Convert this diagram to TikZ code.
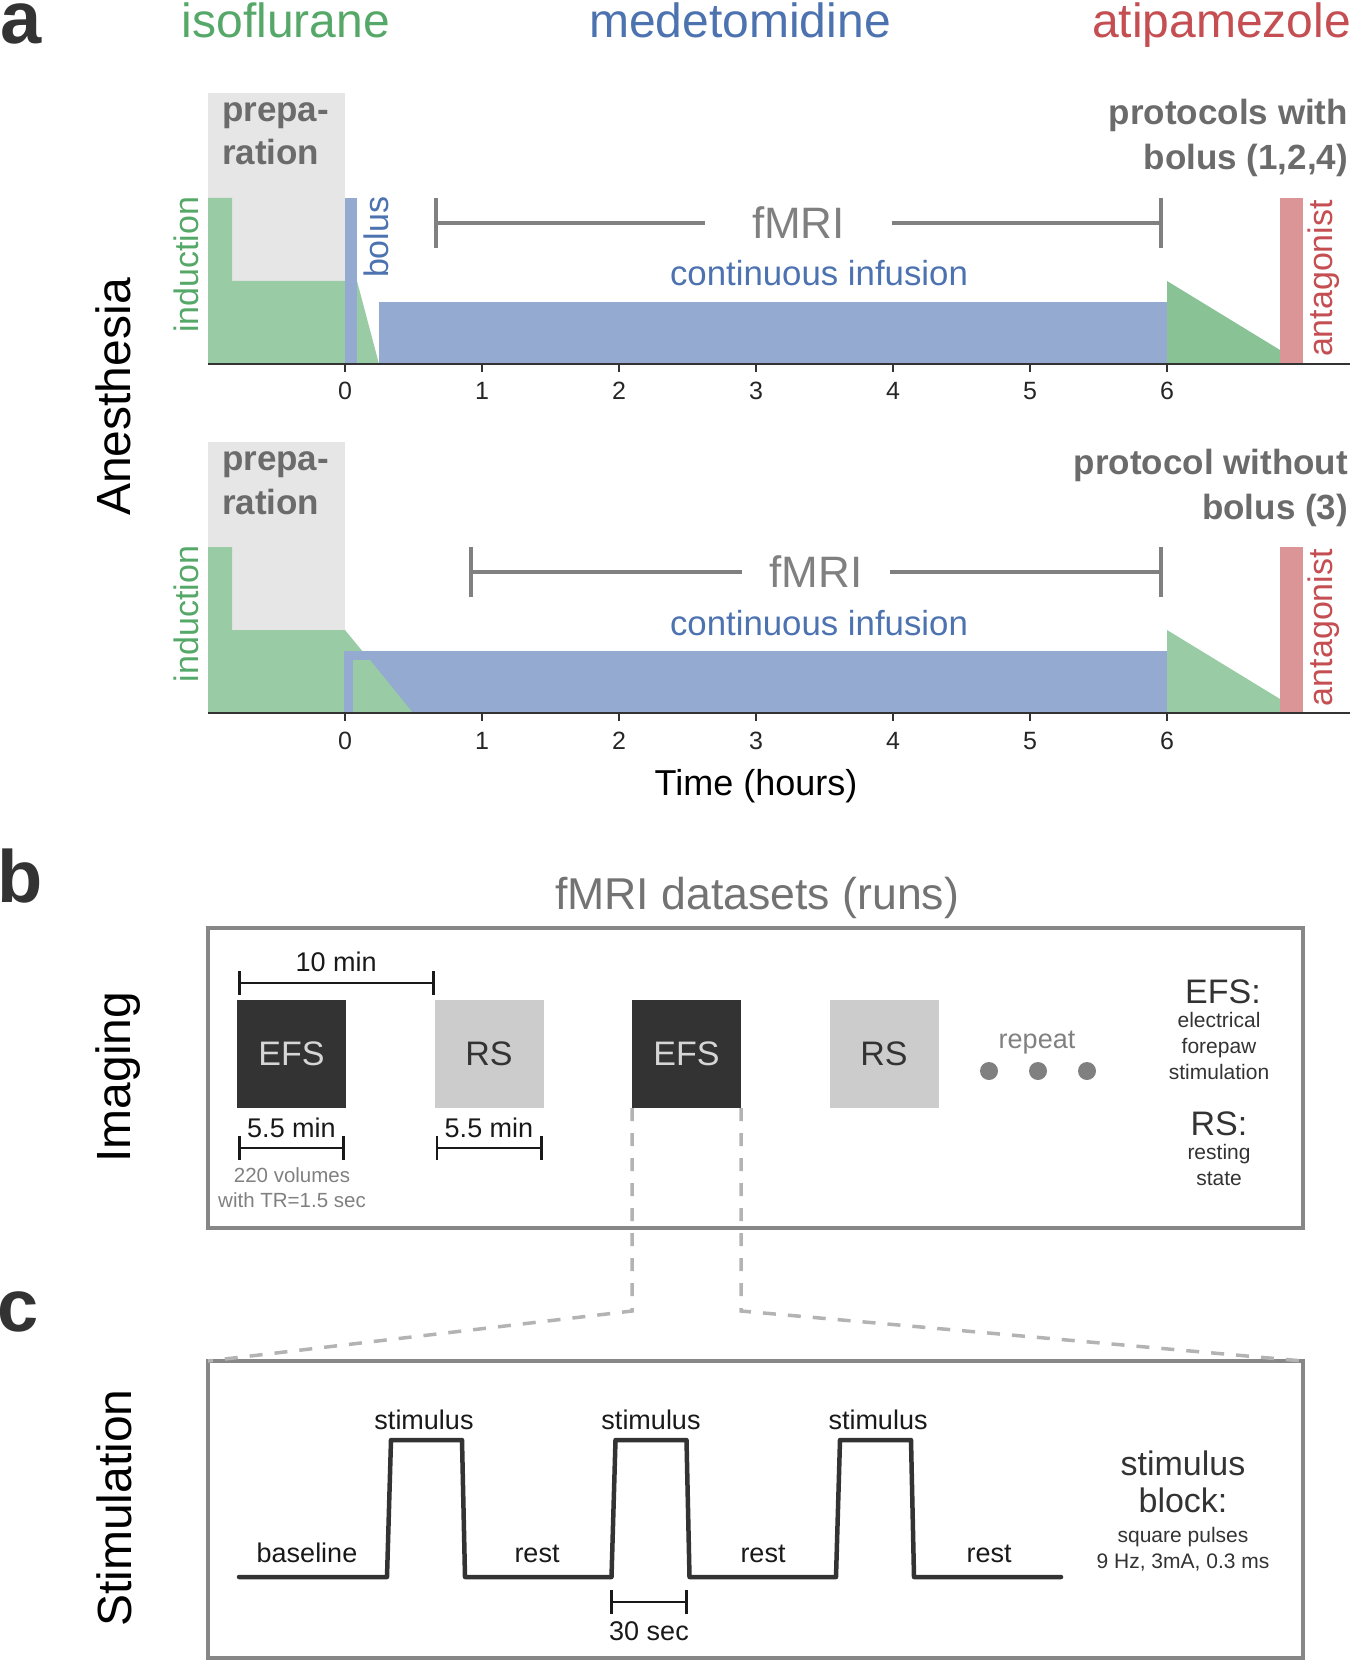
\documentclass[tikz,border=0pt]{standalone}
\usepackage{fontspec}
\setmainfont{Liberation Sans}
\usepackage{tikz}
\usetikzlibrary{arrows.meta,calc,positioning}

\definecolor{isoG}{HTML}{55A868}
\definecolor{medB}{HTML}{4C72B0}
\definecolor{atiR}{HTML}{C44E52}
\definecolor{isoFill}{HTML}{99CBA4}
\definecolor{isoFillDk}{HTML}{88C295}
\definecolor{medFill}{HTML}{94AAD0}
\definecolor{atiFill}{HTML}{DC9597}
\definecolor{prepGray}{HTML}{E6E6E6}
\definecolor{txtGray}{HTML}{6B6B6B}
\definecolor{midGray}{HTML}{808080}
\definecolor{frameGray}{HTML}{878787}
\definecolor{dashGray}{HTML}{B3B3B3}
\definecolor{darkGray}{HTML}{333333}
\definecolor{efsText}{HTML}{D6D6D6}
\definecolor{rsFill}{HTML}{CCCCCC}

\newcommand{\pxsize}[1]{\fontsize{#1}{#1}\selectfont}

\tikzset{
  every node/.style={inner sep=0pt, outer sep=0pt},
  panel label/.style={font=\bfseries\pxsize{37}, text=darkGray, anchor=base west},
  drug/.style={font=\pxsize{24}, anchor=base},
  row label/.style={font=\pxsize{24}, rotate=90, anchor=base},
  stage/.style={font=\bfseries\pxsize{17.5}, text=txtGray},
  vert lbl/.style={font=\pxsize{17}, rotate=90, anchor=base west},
  hour/.style={font=\pxsize{12.5}, text=black!85, anchor=base},
  axisline/.style={draw=darkGray, line width=1pt},
  fmri bar/.style={draw=midGray, line width=2pt},
  fmri lbl/.style={font=\pxsize{22}, text=midGray},
  runbox/.style={minimum width=54.5pt, minimum height=54pt, font=\pxsize{17}},
  efs run/.style={runbox, fill=darkGray, text=efsText},
  rs run/.style={runbox, fill=rsFill, text=darkGray},
  scalebar/.style={draw=black!90, line width=1.3pt, {Bar[width=12pt]}-{Bar[width=12pt]}},
  scale lbl/.style={font=\pxsize{13.5}, text=black!90},
  small lbl/.style={font=\pxsize{10.5}, text=darkGray, anchor=base},
  panelbox/.style={draw=frameGray, line width=1.75pt, minimum width=547.5pt},
  zoomline/.style={draw=dashGray, line width=1.75pt, dash pattern=on 6.5pt off 6pt},
  pulsetrain/.style={draw=darkGray, line width=2.25pt, line cap=round, line join=round},
}

\begin{document}
\begin{tikzpicture}[x=0.5pt, y=-0.5pt]
  \useasboundingbox (0,0) rectangle (1350,1663);

  % Time axis: t=0 at x=345, one hour = 137 units
  \def\tzero{345}
  \def\hrs{137}
  \def\yaxis{364}
  \def\pstep{224.5}

  % ---------- a: anesthesia ----------
  \node[panel label] (la) at (0,44) {a};
  \node[drug, text=isoG] (iso) at (286,38) {isoflurane};
  \node[drug, text=medB] (med) at (740,38) {medetomidine};
  \node[drug, text=atiR, anchor=base east] (ati) at (1351,38) {atipamezole};
  \node[row label] (anes) at (130,397) {Anesthesia};

  % Shared background of both protocols (second one 349 lower)
  \foreach \p/\dy/\ga/\gb/\tail/\ta/\tb in
      {1/0/357/379/isoFillDk/{protocols with}/{bolus (1,2,4)},
       2/349/\tzero/413/isoFill/{protocol without}/{bolus (3)}} {
    \begin{scope}[shift={(0,\dy)}]
      \fill[prepGray] (208,93) rectangle (\tzero,\yaxis);
      \fill[isoFill] (208,\yaxis) -- (208,198) -- (232,198) -- (232,281)
        -- (\ga,281) -- (\gb,\yaxis) -- cycle;
      \fill[fill=\tail] (1167,281) -- (1280,350) -- (1280,\yaxis)
        -- (1167,\yaxis) -- cycle;
      \fill[atiFill] (1280,198) rectangle (1303,\yaxis);
      \node[stage, anchor=base west] (prepA\p) at (222,122) {prepa-};
      \node[stage, anchor=base west] (prepB\p) at (222,165) {ration};
      \node[stage, anchor=base east] (protA\p) at (1348,125) {\ta};
      \node[stage, anchor=base east] (protB\p) at (1348,170) {\tb};
      \node[vert lbl, text=isoG] (ind\p) at (198,333) {induction};
      \node[vert lbl, text=atiR] (ant\p) at (1332,357) {antagonist};
      \node[drug, font=\pxsize{17.4}, text=medB] (inf\p) at (819,286)
        {continuous infusion};
    \end{scope}
  }

  % Bolus + infusion (protocols 1,2,4)
  \fill[medFill] (\tzero,198) rectangle (357,\yaxis);
  \fill[medFill] (379,302) rectangle (1167,\yaxis);
  \node[vert lbl, text=medB] (bol) at (388,278) {bolus};

  % Infusion only (protocol 3)
  \begin{scope}[shift={(0,349)}]
    \fill[medFill] (344,302) rectangle (1167,\yaxis);
    \fill[isoFill] (353,\yaxis) -- (353,311) -- (370,311) -- (413,\yaxis) -- cycle;
  \end{scope}

  % Time axes and fMRI windows
  \foreach \p/\dy/\fl/\gap in {1/0/434/23.5pt, 2/349/469/14pt} {
    \begin{scope}[shift={(0,\dy)}]
      \draw[axisline] (208,\yaxis) -- (1350,\yaxis);
      \foreach \h in {0,...,6} {
        \draw[darkGray, line width=0.75pt] ({\tzero+\hrs*\h},\yaxis) -- ++(0,8);
        \node[hour] (h\p\h) at ({\tzero+\hrs*\h},400) {\h};
      }
      \coordinate (fL\p) at (\fl,223);
      \coordinate (fR\p) at (1163,223);
      \node[fmri lbl, inner xsep=\gap] (fmri\p) at ($(fL\p)!0.5!(fR\p)$) {fMRI};
      \draw[fmri bar, {Bar[width=25pt]}-] (fL\p) -- (fmri\p.west);
      \draw[fmri bar, -{Bar[width=25pt]}] (fmri\p.east) -- (fR\p);
    \end{scope}
  }
  \node[font=\pxsize{18}, anchor=base] (time) at (756,795) {Time (hours)};

  % ---------- b: imaging runs ----------
  \node[panel label] (lb) at (-3,902) {b};
  \node[row label] (imag) at (130,1077) {Imaging};
  \node[font=\pxsize{22.3}, text=midGray!90!black, anchor=base] (runs) at (757,909)
    {fMRI datasets (runs)};
  \node[panelbox, minimum height=150pt] (imgbox) at (755.5,1078) {};

  \node[efs run] (efs1) at (291.5,1054) {EFS};
  \node[rs run, right=44.25pt of efs1] (rs1) {RS};
  \node[efs run, right=44.25pt of rs1] (efs2) {EFS};
  \node[rs run, right=44.25pt of efs2] (rs2) {RS};

  % durations
  \draw[scalebar] ($(efs1.north west)+(1,-17)$) -- ($(rs1.north west)+(0,-17)$)
    node[midway, above=5.5pt, scale lbl] (tenmin) {10 min};
  \draw[scalebar] ($(efs1.south west)+(1,40)$) -- ($(efs1.south east)+(-1,40)$)
    node[midway, above=5pt, scale lbl] (dur1) {5.5 min};
  \draw[scalebar] ($(rs1.south west)+(1,40)$) -- ($(rs1.south east)+(-1,40)$)
    node[midway, above=5pt, scale lbl] (dur2) {5.5 min};
  \node[small lbl, font=\pxsize{10.25}, text=midGray] (vol) at (292,1182) {220 volumes};
  \node[small lbl, font=\pxsize{10.25}, text=midGray] (tr) at (292,1207) {with TR=1.5 sec};

  % repeat
  \node[font=\pxsize{13.5}, text=midGray, anchor=base] (rep) at (1037,1048) {repeat};
  \foreach \x in {989,1038,1087}
    \fill[midGray] (\x,1071) circle (4.5pt);

  % legend
  \node[font=\pxsize{17}, text=darkGray, anchor=base] (keyE) at (1223,1003) {EFS:};
  \node[small lbl] (keyE1) at (1219,1027) {electrical};
  \node[small lbl] (keyE2) at (1219,1053) {forepaw};
  \node[small lbl] (keyE3) at (1219,1079) {stimulation};
  \node[font=\pxsize{17}, text=darkGray, anchor=base] (keyR) at (1219,1135) {RS:};
  \node[small lbl] (keyR1) at (1219,1159) {resting};
  \node[small lbl] (keyR2) at (1219,1185) {state};

  % ---------- c: stimulation ----------
  \node[panel label] (lc) at (-3,1331) {c};
  \node[row label] (stimrow) at (131,1508) {Stimulation};
  \node[panelbox, minimum height=148.5pt] (stimbox) at (755.5,1509.5) {};

  % zoom from the EFS run
  \draw[zoomline] (efs2.south west) -- ++(0,203) -- (stimbox.north west);
  \draw[zoomline] (efs2.south east) -- ++(0,203) -- (stimbox.north east);

  % block design
  \draw[pulsetrain] (239,1577)
    \foreach \k in {0,1,2} {
      -- ({387+\pstep*\k},1577) -- ({391+\pstep*\k},1440)
      -- ({462+\pstep*\k},1440) -- ({465+\pstep*\k},1577)
    } -- (1061,1577);
  \node[scale lbl, anchor=base] (basel) at (307,1562) {baseline};
  \foreach \k in {0,1,2} {
    \node[scale lbl, anchor=base] (stim\k) at ({424+227*\k},1429) {stimulus};
    \node[scale lbl, anchor=base] (rest\k) at ({537+226*\k},1562) {rest};
  }
  \draw[scalebar] (610,1602) -- (688,1602)
    node[midway, below=10pt, scale lbl] (thirty) {30 sec};

  % stimulus parameters
  \node[font=\pxsize{17}, text=darkGray, anchor=base] (blkA) at (1183,1475) {stimulus};
  \node[font=\pxsize{17}, text=darkGray, anchor=base] (blkB) at (1183,1512) {block:};
  \node[small lbl] (blkC) at (1183,1542) {square pulses};
  \node[small lbl] (blkD) at (1183,1568) {9 Hz, 3mA, 0.3 ms};
\end{tikzpicture}
\end{document}
